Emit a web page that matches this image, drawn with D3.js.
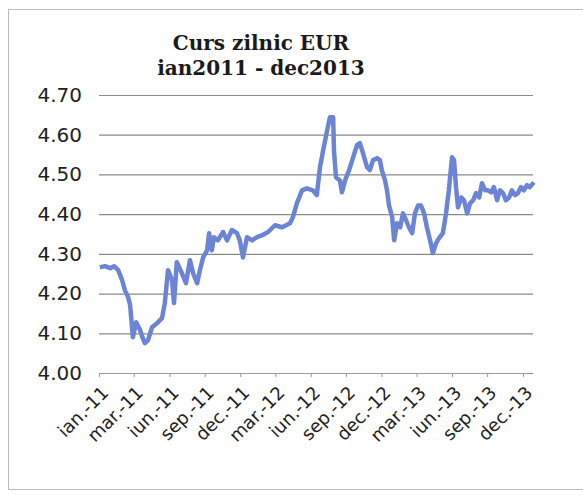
<!DOCTYPE html>
<html>
<head>
<meta charset="utf-8">
<script src="https://cdn.jsdelivr.net/npm/d3@7"></script>
<style>
  body { margin: 0; background: #fff; }
  svg { display: block; }
</style>
</head>
<body>
<script>
// curs zilnic EUR/RON (aprox.)
var zile = [
  "2011-01-05","2011-01-18","2011-01-31","2011-02-10","2011-02-20","2011-03-02","2011-03-09","2011-03-17",
  "2011-03-22","2011-03-29","2011-04-06","2011-04-16","2011-04-23","2011-04-28","2011-05-06","2011-05-16",
  "2011-05-28","2011-06-10","2011-06-17","2011-06-25","2011-07-05","2011-07-10","2011-07-17","2011-07-30",
  "2011-08-09","2011-08-19","2011-08-27","2011-09-06","2011-09-13","2011-09-21","2011-10-01","2011-10-06",
  "2011-10-13","2011-10-18","2011-10-28","2011-11-10","2011-11-20","2011-12-02","2011-12-15","2011-12-22",
  "2011-12-30","2012-01-09","2012-01-22","2012-02-03","2012-02-16","2012-03-02","2012-03-19","2012-04-06",
  "2012-04-26","2012-05-03","2012-05-13","2012-05-26","2012-06-07","2012-06-22","2012-07-02","2012-07-10",
  "2012-07-18","2012-07-28","2012-08-04","2012-08-12","2012-08-14","2012-08-19","2012-08-29","2012-09-03",
  "2012-09-11","2012-09-21","2012-10-01","2012-10-11","2012-10-18","2012-10-26","2012-11-05","2012-11-12",
  "2012-11-20","2012-11-30","2012-12-07","2012-12-12","2012-12-20","2012-12-25","2012-12-30","2013-01-07",
  "2013-01-12","2013-01-19","2013-01-27","2013-02-03","2013-02-11","2013-02-18","2013-02-26","2013-03-05",
  "2013-03-13","2013-03-20","2013-03-28","2013-04-04","2013-04-12","2013-04-19","2013-04-27","2013-05-04",
  "2013-05-14","2013-05-22","2013-05-29","2013-06-06","2013-06-11","2013-06-16","2013-06-21","2013-06-29",
  "2013-07-06","2013-07-14","2013-07-21","2013-07-29","2013-08-05","2013-08-13","2013-08-20","2013-08-28",
  "2013-09-04","2013-09-12","2013-09-19","2013-09-27","2013-10-04","2013-10-12","2013-10-19","2013-10-27",
  "2013-11-03","2013-11-11","2013-11-18","2013-11-26","2013-12-03","2013-12-11","2013-12-18","2013-12-28"
];
var curs = [
  4.266,4.269,4.264,4.269,4.259,4.234,4.208,4.191,
  4.171,4.090,4.128,4.108,4.087,4.075,4.083,4.115,
  4.125,4.138,4.176,4.259,4.234,4.176,4.279,4.251,
  4.226,4.284,4.251,4.226,4.259,4.291,4.309,4.352,
  4.309,4.342,4.334,4.355,4.334,4.360,4.352,4.334,
  4.291,4.342,4.334,4.342,4.347,4.355,4.372,4.367,
  4.377,4.392,4.427,4.460,4.465,4.460,4.448,4.518,
  4.561,4.611,4.644,4.644,4.561,4.493,4.485,4.455,
  4.485,4.511,4.543,4.574,4.579,4.553,4.518,4.511,
  4.536,4.541,4.536,4.511,4.485,4.460,4.422,4.392,
  4.334,4.377,4.367,4.402,4.384,4.367,4.352,4.402,
  4.422,4.422,4.402,4.367,4.334,4.302,4.327,4.339,
  4.352,4.402,4.460,4.543,4.536,4.468,4.417,4.442,
  4.435,4.402,4.427,4.435,4.453,4.442,4.478,4.460,
  4.460,4.455,4.468,4.435,4.460,4.453,4.435,4.442,
  4.460,4.448,4.453,4.468,4.460,4.473,4.468,4.480
];

var tickDates = ["2011-01-03","2011-03-31","2011-06-29","2011-09-25","2011-12-23","2012-03-20","2012-06-17",
                 "2012-09-13","2012-12-11","2013-03-09","2013-06-06","2013-09-02","2013-12-01"];
var tickLabels = ["ian.-11","mar.-11","iun.-11","sep.-11","dec.-11","mar.-12","iun.-12",
                  "sep.-12","dec.-12","mar.-13","iun.-13","sep.-13","dec.-13"];
var yTicks = [4.00, 4.10, 4.20, 4.30, 4.40, 4.50, 4.60, 4.70];
var titlu = ["Curs zilnic EUR", "ian2011 - dec2013"];

var W = 583, H = 495;
var pLeft = 99, pRight = 535, pTop = 95, pBottom = 373;

var parse = d3.timeParse("%Y-%m-%d");
var data = zile.map(function(z, i) { return { d: parse(z), v: curs[i] }; });

var svg = d3.select("body").append("svg")
  .attr("width", W)
  .attr("height", H);

// chenarul graficului
svg.append("rect")
  .attr("x", 8.5).attr("y", 9.5)
  .attr("width", 620).attr("height", 480)
  .attr("fill", "#fff")
  .attr("stroke", "#bdbdbd");

var x = d3.scaleTime()
  .domain([parse("2011-01-03"), parse("2013-12-31")])
  .range([pLeft, pRight]);

var y = d3.scaleLinear()
  .domain([4.0, 4.7])
  .range([pBottom, pTop]);

// titlu
svg.append("g").selectAll("text")
  .data(titlu)
  .enter().append("text")
  .attr("x", 261)
  .attr("y", function(d, i) { return 50 + i * 25; })
  .attr("text-anchor", "middle")
  .style("font-family", "'DejaVu Serif', serif")
  .style("font-weight", "bold")
  .style("font-size", "20px")
  .style("fill", "#1a1a1a")
  .text(function(d) { return d; });

// axa y + grila
var yAxis = d3.axisLeft(y)
  .tickValues(yTicks)
  .tickFormat(d3.format(".2f"))
  .tickSize(-(pRight - 2 - pLeft))
  .tickPadding(17);

var gy = svg.append("g")
  .attr("transform", "translate(" + pLeft + ",0)")
  .call(yAxis);
gy.select(".domain").remove();
gy.selectAll("line").attr("stroke", "#8a8a8a").attr("stroke-width", 1.2);
gy.selectAll("text")
  .style("font-family", "'DejaVu Sans', sans-serif")
  .style("font-size", "20px")
  .style("fill", "#222");

// axa x
var xAxis = d3.axisBottom(x)
  .tickValues(tickDates.map(parse))
  .tickFormat(function(d, i) { return tickLabels[i]; })
  .tickSizeOuter(0)
  .tickSize(4);

var gx = svg.append("g")
  .attr("transform", "translate(0," + pBottom + ")")
  .call(xAxis);
gx.select(".domain").attr("stroke", "#9a9a9a").attr("d", "M" + pLeft + ",0.5H" + (pRight - 5));
gx.selectAll("line").attr("stroke", "#9a9a9a");
gx.selectAll("text")
  .attr("x", 0).attr("y", 0).attr("dy", 0)
  .attr("transform", "translate(10,21) rotate(-45)")
  .style("text-anchor", "end")
  .style("font-family", "'DejaVu Sans', sans-serif")
  .style("font-size", "18px")
  .style("fill", "#222");

// linia cursului
var line = d3.line()
  .x(function(d) { return x(d.d); })
  .y(function(d) { return y(d.v); });

svg.append("path")
  .datum(data)
  .attr("d", line)
  .attr("fill", "none")
  .attr("stroke", "#6b84d6")
  .attr("stroke-width", 4.5)
  .attr("stroke-linejoin", "round");
</script>
</body>
</html>
